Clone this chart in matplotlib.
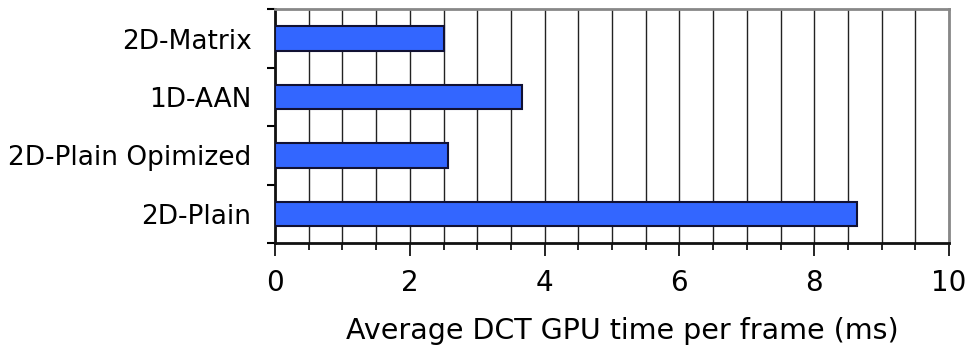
import numpy as np
import matplotlib
matplotlib.use('Agg')
import matplotlib.pyplot as plt
from matplotlib.ticker import MultipleLocator

# data (bottom to top)
methods = ['2D-Plain', '2D-Plain Opimized', '1D-AAN', '2D-Matrix']
gpu_time_ms = [8.63, 2.57, 3.67, 2.51]

plt.rcParams['font.family'] = ['DejaVu Sans']

fig = plt.figure(figsize=(9.66, 3.49), dpi=100)
ax = fig.add_axes([0.2847, 0.3037, 0.6977, 0.6691])

y = np.arange(len(methods))
ax.barh(y, gpu_time_ms, height=0.42, color='#3366ff', edgecolor='#111133',
        linewidth=1.5, zorder=3)

ax.set_xlim(0, 10)
ax.set_ylim(-0.5, len(methods) - 0.5)
ax.xaxis.set_major_locator(MultipleLocator(2))
ax.xaxis.set_minor_locator(MultipleLocator(0.5))
ax.grid(True, which='both', axis='x', color='#222222', linewidth=1, zorder=0)

# category labels between boundary ticks
ax.set_yticks(np.arange(len(methods) + 1) - 0.5)
ax.set_yticklabels([])
ax.set_yticks(y, minor=True)
ax.set_yticklabels(methods, minor=True, fontsize=19)
ax.tick_params(axis='y', which='major', direction='out', length=6, width=1.5)
ax.tick_params(axis='y', which='minor', length=0, pad=17)
ax.tick_params(axis='x', which='major', direction='out', length=9.4, width=1.2,
               labelsize=20, pad=9)
ax.tick_params(axis='x', which='minor', direction='out', length=5, width=1.2)

for side in ['left', 'bottom']:
    ax.spines[side].set_color('#111111')
    ax.spines[side].set_linewidth(2)
for side in ['top', 'right']:
    ax.spines[side].set_color('#888888')
    ax.spines[side].set_linewidth(2)

ax.set_xlabel('Average DCT GPU time per frame (ms)', fontsize=20.5, labelpad=15,
              x=0.515)

fig.savefig('out.png', dpi=100)
